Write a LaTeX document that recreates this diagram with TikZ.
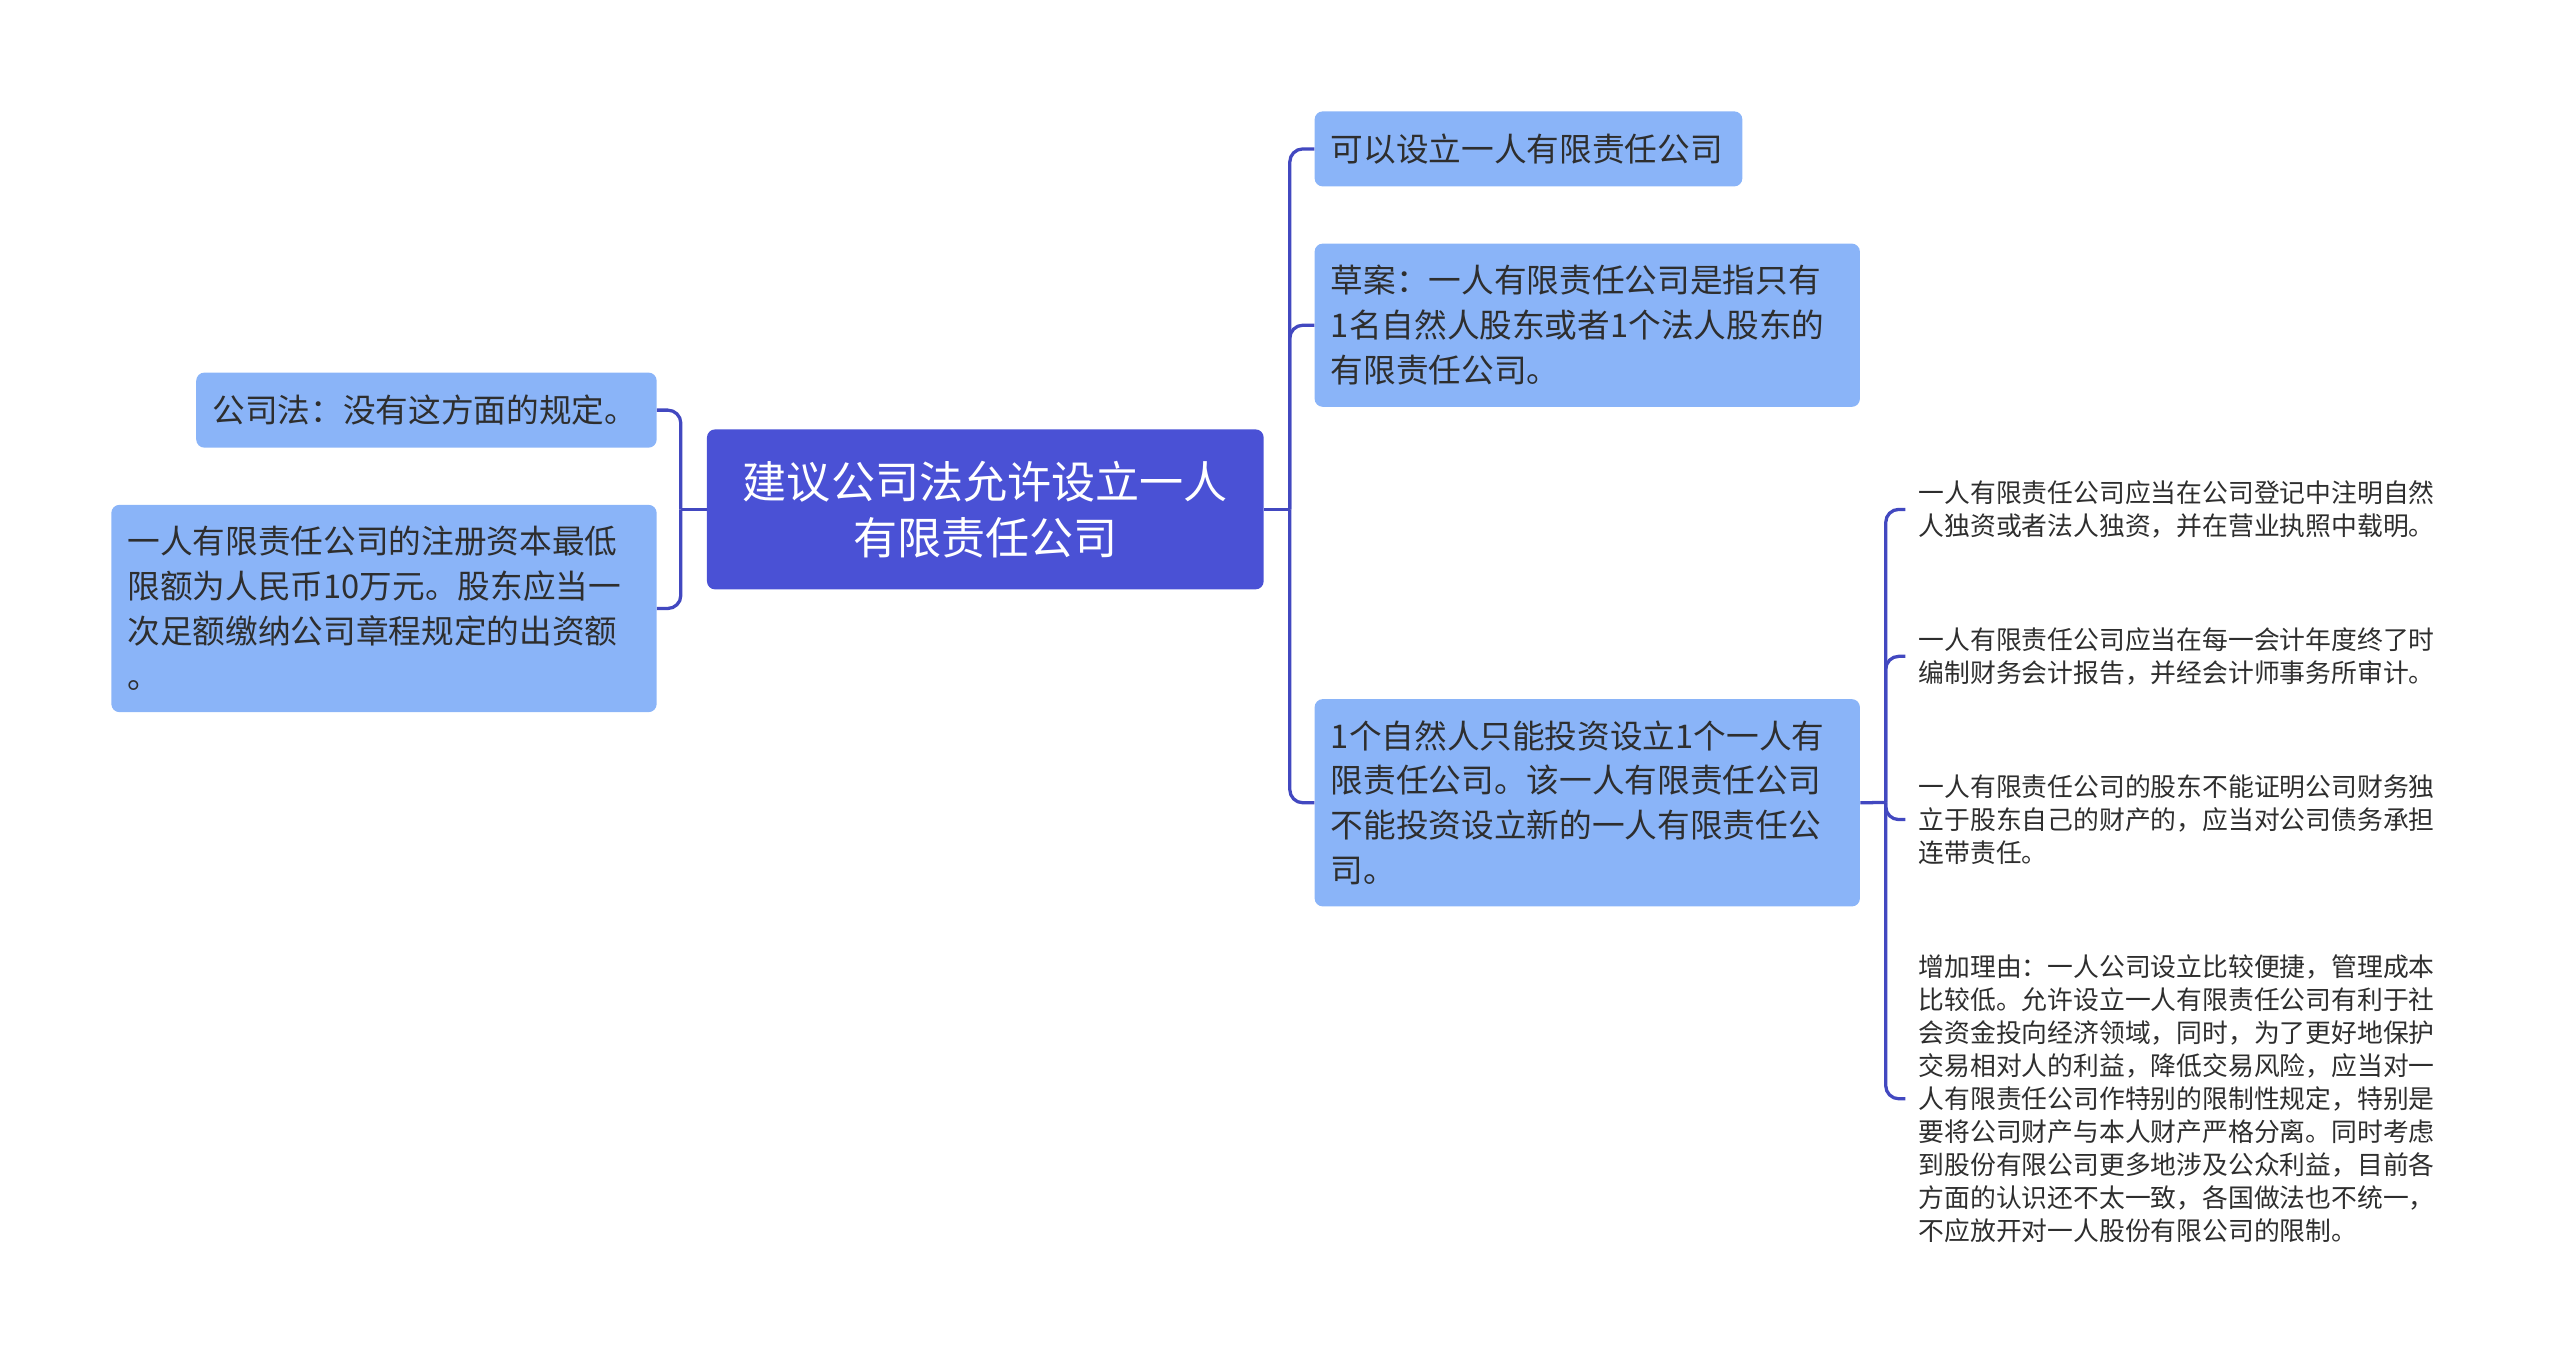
\documentclass[tikz,border=0pt]{standalone}
\usepackage{fontspec}
\setmainfont{Noto Sans CJK SC}
\usetikzlibrary{positioning}
\definecolor{topicblue}{HTML}{4A51D5}
\definecolor{boxblue}{HTML}{8AB4F8}
\definecolor{linkblue}{HTML}{4248C0}
\definecolor{inkgray}{HTML}{2E2E2E}

\begin{document}
\begin{tikzpicture}[x=1pt, y=-1pt,
    topic/.style={rectangle, rounded corners=5pt, fill=topicblue, text=white, align=center, font=\fontsize{27}{34}\selectfont},
    leaf/.style={rectangle, rounded corners=5pt, fill=boxblue, text=inkgray, align=left, inner xsep=10pt, anchor=north west, font=\fontsize{20}{27.5}\selectfont},
    note/.style={align=left, inner xsep=8pt, inner ysep=0pt, anchor=west, text width=330pt, text=inkgray, font=\fontsize{15.8}{20.2}\selectfont},
    link/.style={draw=linkblue, line width=2pt, rounded corners=8pt}]
            \useasboundingbox (0,0) rectangle (1568,840);
            % main topic
            \node[topic, minimum width=341pt, minimum height=98pt] (main) at (603.5,312) {建议公司法允许设立一人\\有限责任公司};
            % left side
            \node[leaf, minimum width=282pt, minimum height=46pt, text width=262pt] (L1) at (120,228) {公司法：没有这方面的规定。};
            \node[leaf, minimum width=334pt, minimum height=127pt, text width=314pt] (L2) at (68,309) {一人有限责任公司的注册资本最低\\限额为人民币10万元。股东应当一\\次足额缴纳公司章程规定的出资额\\。};
            % right side
            \node[leaf, minimum width=262pt, minimum height=46pt, text width=242pt] (R1) at (805,68) {可以设立一人有限责任公司};
            \node[leaf, minimum width=334pt, minimum height=100pt, text width=314pt] (R2) at (805,149) {草案：一人有限责任公司是指只有\\1名自然人股东或者1个法人股东的\\有限责任公司。};
            \node[leaf, minimum width=334pt, minimum height=127pt, text width=314pt] (R3) at (805,428) {1个自然人只能投资设立1个一人有\\限责任公司。该一人有限责任公司\\不能投资设立新的一人有限责任公\\司。};
            % notes under R3
            \node[note] (C1) at (1167,312) {一人有限责任公司应当在公司登记中注明自然\\人独资或者法人独资，并在营业执照中载明。};
            \node[note] (C2) at (1167,402) {一人有限责任公司应当在每一会计年度终了时\\编制财务会计报告，并经会计师事务所审计。};
            \node[note] (C3) at (1167,502) {一人有限责任公司的股东不能证明公司财务独\\立于股东自己的财产的，应当对公司债务承担\\连带责任。};
            \node[note] (C4) at (1167,673) {增加理由：一人公司设立比较便捷，管理成本\\比较低。允许设立一人有限责任公司有利于社\\会资金投向经济领域，同时，为了更好地保护\\交易相对人的利益，降低交易风险，应当对一\\人有限责任公司作特别的限制性规定，特别是\\要将公司财产与本人财产严格分离。同时考虑\\到股份有限公司更多地涉及公众利益，目前各\\方面的认识还不太一致，各国做法也不统一，\\不应放开对一人股份有限公司的限制。};
            % connectors
            \coordinate (lj) at (417,312);
            \coordinate (rj) at (790,312);
            \coordinate (sj) at (1155,491.5);
            \draw[link] (main.west) -- (lj);
            \foreach \n in {L1,L2}
                \draw[link] (lj) |- (\n.east);
            \draw[link] (main.east) -- (rj);
            \foreach \n in {R1,R2,R3}
                \draw[link] (rj) |- (\n.west);
            \draw[link] (R3.east) -- (sj);
            \foreach \n in {C1,C2,C3,C4}
                \draw[link] (sj) |- (\n.west);
        \end{tikzpicture}
\end{document}
